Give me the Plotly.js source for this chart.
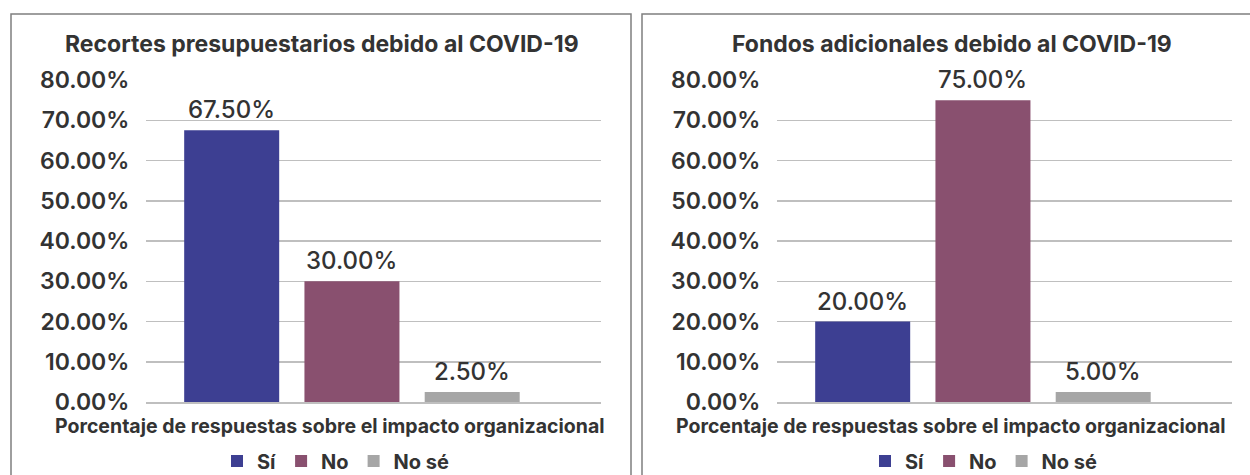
<!DOCTYPE html>
<html>
<head>
<meta charset="utf-8">
<script src="https://cdn.plot.ly/plotly-3.0.1.min.js"></script>
<style>
  html, body { margin: 0; padding: 0; background: #ffffff; }
  #chart { width: 1250px; height: 475px; }
</style>
</head>
<body>
<div id="chart"></div>
<script>
// ---- Data ----
const categories = ["Sí", "No", "No sé"];
const seriesNames = ["Sí", "No", "No sé"];
const recortesValues = [67.5, 30.0, 2.5];
const recortesLabels = ["67.50%", "30.00%", "2.50%"];
const fondosValues = [20.0, 75.0, 2.5];
const fondosLabels = ["20.00%", "75.00%", "5.00%"];
const yTickValues = [0, 10, 20, 30, 40, 50, 60, 70, 80];
const yTickLabels = ["0.00%", "10.00%", "20.00%", "30.00%", "40.00%", "50.00%", "60.00%", "70.00%", "80.00%"];
const titleLeft = "Recortes presupuestarios debido al COVID-19";
const titleRight = "Fondos adicionales debido al COVID-19";
const xAxisTitle = "Porcentaje de respuestas sobre el impacto organizacional";

// ---- Styles ----
const colors = ["#3d3f92", "#89506f", "#a6a6a6"];
const W = 1250, H = 475;
const FONT = "Inter, 'DejaVu Sans', sans-serif";
const TEXT = "#333333";
const px = v => v / W;
const py = v => 1 - v / H;

const traces = [];
function addChart(values, xa, ya, legendId) {
  categories.forEach((c, i) => {
    traces.push({
      type: "bar",
      x: [c],
      y: [values[i]],
      name: seriesNames[i],
      marker: { color: colors[i] },
      width: 0.79,
      xaxis: xa,
      yaxis: ya,
      legend: legendId,
      hoverinfo: "skip"
    });
  });
}
addChart(recortesValues, "x", "y", "legend");
addChart(fondosValues, "x2", "y2", "legend2");

const annotations = [];
function addLabels(values, labels, xref, yref) {
  values.forEach((v, i) => {
    annotations.push({
      x: categories[i], y: v, xref: xref, yref: yref,
      text: labels[i], showarrow: false,
      xanchor: "center", yanchor: "bottom", yshift: 4,
      font: { family: FONT, size: 24, color: TEXT, weight: 500 }
    });
  });
}
addLabels(recortesValues, recortesLabels, "x", "y");
addLabels(fondosValues, fondosLabels, "x2", "y2");

function textAnn(text, x, y, size) {
  annotations.push({
    text: text, xref: "paper", yref: "paper", x: px(x), y: py(y),
    xanchor: "center", yanchor: "middle", showarrow: false,
    font: { family: FONT, size: size, color: TEXT, weight: 700 }
  });
}
// chart titles
textAnn(titleLeft, 322, 44, 23);
textAnn(titleRight, 952, 44, 23);
// x axis titles
textAnn(xAxisTitle, 330, 426, 19.5);
textAnn(xAxisTitle, 951, 426, 19.5);

function yAxis(domain, anchor) {
  return {
    domain: domain,
    anchor: anchor,
    range: [0, 80],
    tickvals: yTickValues,
    ticktext: yTickLabels,
    showgrid: true,
    gridcolor: "#bfbfbf",
    gridwidth: 1.5,
    zeroline: false,
    showline: false,
    ticks: "outside",
    ticklen: 11,
    tickcolor: "rgba(0,0,0,0)",
    tickfont: { family: FONT, size: 23, color: TEXT, weight: 600 },
    fixedrange: true
  };
}
function xAxis(domain, anchor) {
  return {
    domain: domain,
    anchor: anchor,
    type: "category",
    categoryorder: "array",
    categoryarray: categories,
    range: [-0.7125, 3.071],
    showticklabels: false,
    showgrid: false,
    zeroline: false,
    showline: true,
    linecolor: "#bfbfbf",
    linewidth: 1.5,
    ticks: "",
    fixedrange: true
  };
}

const yDom = [py(402), py(80)];

function legendCfg(xl) {
  return {
    orientation: "h",
    x: px(xl), y: py(461), xanchor: "left", yanchor: "middle",
    font: { family: FONT, size: 20, color: TEXT, weight: 700 },
    itemwidth: 30,
    traceorder: "normal", bgcolor: "rgba(0,0,0,0)"
  };
}

const layout = {
  width: W, height: H,
  margin: { l: 0, r: 0, t: 0, b: 0, autoexpand: false },
  paper_bgcolor: "#ffffff",
  plot_bgcolor: "#ffffff",
  barmode: "overlay",
  showlegend: true,
  xaxis: xAxis([px(146), px(601)], "y"),
  yaxis: yAxis(yDom, "x"),
  xaxis2: xAxis([px(777), px(1232)], "y2"),
  yaxis2: yAxis(yDom, "x2"),
  legend: legendCfg(217),
  legend2: legendCfg(865),
  annotations: annotations,
  shapes: [
    { type: "rect", xref: "paper", yref: "paper", x0: px(11), x1: px(631), y0: py(490), y1: py(14),
      line: { color: "#7f7f7f", width: 1.5 }, fillcolor: "rgba(0,0,0,0)", layer: "below" },
    { type: "rect", xref: "paper", yref: "paper", x0: px(642), x1: px(1265), y0: py(490), y1: py(14),
      line: { color: "#7f7f7f", width: 1.5 }, fillcolor: "rgba(0,0,0,0)", layer: "below" }
  ]
};

Plotly.newPlot("chart", traces, layout, { displayModeBar: false, staticPlot: true });
</script>
</body>
</html>
